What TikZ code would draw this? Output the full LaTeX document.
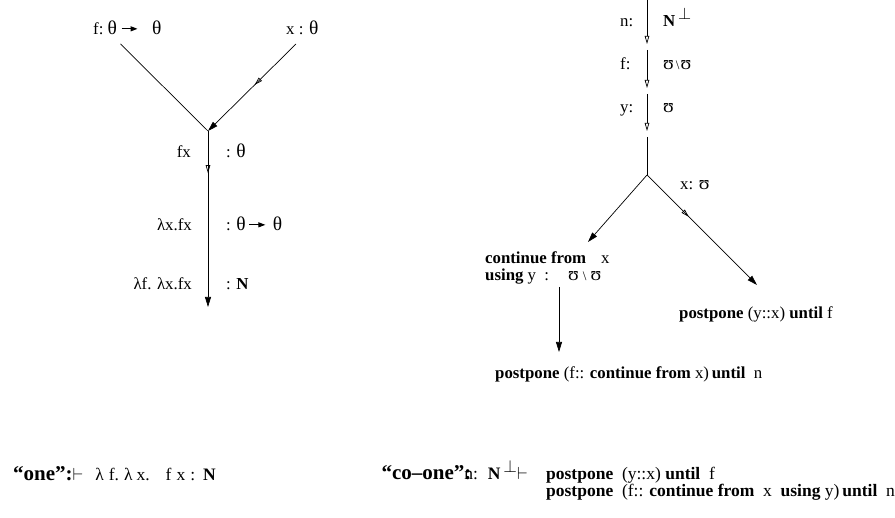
\RequirePackage{fix-cm}
\documentclass[tikz,border=0pt]{standalone}
\usepackage{fontspec}
\setmainfont{Liberation Serif}
\usetikzlibrary{arrows.meta,decorations.markings}
\newcommand\tht{{\fontsize{19.5}{20}\selectfont θ}}
\newcommand\ups{{\fontsize{19.5}{20}\selectfont ʊ}}
\newcommand\bsl{{\fontsize{13}{14}\selectfont\textbackslash}}
\newcommand\sarr{\tikz[baseline=-0.8ex]\draw[line width=1.1pt,-{Triangle[length=7pt,width=5pt]}] (0pt,0pt)--(16pt,0pt);}
\newcommand\perpsup{\raisebox{7pt}{$\perp$}}
\newcommand\bq{\fontsize{21}{22}\selectfont\bfseries}
\begin{document}
\begin{tikzpicture}[x=1pt,y=-1pt,
  fa/.tip={Triangle[length=10pt,width=6pt]},
  oa/.tip={Triangle[open,length=8pt,width=4.5pt]},
  ln/.style={line width=0.7pt},
  midopen/.style={postaction={decorate},decoration={markings,mark=at position #1 with {\arrow{oa}}}},
  lbl/.style={inner sep=0pt,font=\fontsize{16.8}{17}\selectfont},
  big/.style={inner sep=0pt,font=\fontsize{17.5}{17}\selectfont}]
\useasboundingbox (0,0) rectangle (895,518);
% ---------------- left diagram
\node[lbl,anchor=base west] (ftype) at (93,35) {f:\ \tht\hspace{4pt}\sarr\hspace{14pt}\tht};
\node[lbl,anchor=base west] (xtype) at (286,35) {x : \tht};
\coordinate (fs) at (120.5,44);
\coordinate (xs) at (296,44);
\coordinate (j1) at (208,131);
\coordinate (lb) at (208,307);
\draw[ln] (fs) -- (j1);
\draw[ln,-fa,midopen=0.47] (xs) -- (j1);
\draw[ln,-fa,midopen=0.24] (j1) -- (lb);
\node[lbl,anchor=base east] (fx) at (191,158) {fx};
\node[lbl,anchor=base west] (fxt) at (226,158) {: \tht};
\node[lbl,anchor=base east] (lx) at (192,231) {λx.fx};
\node[lbl,anchor=base west] (lxt) at (226,231) {: \tht\hspace{3pt}\sarr\hspace{7pt}\tht};
\node[lbl,anchor=base east] (lf) at (192,290) {λf. λx.fx};
\node[lbl,anchor=base west] (lft) at (226,290) {: \textbf{N}};
% ---------------- right diagram
\coordinate (t0) at (647,0);
\coordinate (t1) at (647,44);
\coordinate (t2) at (647,50);
\coordinate (t3) at (647,88);
\coordinate (t4) at (647,94);
\coordinate (t5) at (647,131);
\coordinate (t6) at (647,137);
\coordinate (j2) at (647,175);
\draw[ln,-oa] (t0) -- (t1);
\draw[ln,-oa] (t2) -- (t3);
\draw[ln,-oa] (t4) -- (t5);
\draw[ln] (t6) -- (j2);
\node[lbl,anchor=base west] (nl) at (620,27) {n:};
\node[lbl,anchor=base west] (nt) at (663,27) {\textbf{N}\,\perpsup};
\node[lbl,anchor=base west] (fl) at (620,70) {f:};
\node[lbl,anchor=base west] (ft) at (663,70) {\ups\hspace{2pt}\bsl\hspace{1pt}\ups};
\node[lbl,anchor=base west] (yl) at (620,113) {y:};
\node[lbl,anchor=base west] (yt) at (663,113) {\ups};
\coordinate (cl) at (588,242);
\coordinate (pr) at (757,285);
\draw[ln,-fa] (j2) -- (cl);
\draw[ln,-fa,midopen=0.38] (j2) -- (pr);
\node[lbl,anchor=base west] (xu) at (680,190) {x: \ups};
\node[lbl,anchor=base west] (cf) at (485,264) {\textbf{continue from}};
\node[lbl,anchor=base west] (cfx) at (601,264) {x};
\node[lbl,anchor=base west] (us) at (485,281) {\textbf{using} y\ \ :};
\node[lbl,anchor=base west] (ust) at (568,281) {\ups\hspace{4pt}\bsl\hspace{4pt}\ups};
\coordinate (v1) at (559,287);
\coordinate (v2) at (559,352);
\draw[ln,-fa] (v1) -- (v2);
\node[lbl,anchor=base west] (pyx) at (679,319) {\textbf{postpone} (y::x) \textbf{until} f};
\node[lbl,anchor=base west] (pfc) at (495,379) {\textbf{postpone} (f:: \textbf{continue from} x)\,\textbf{until}\ \ n};
% ---------------- bottom
\node[big,anchor=base west] (one) at (13,481) {{\bq ``one'':}$\vdash$\hspace{12pt}λ\hspace{5pt}f.\hspace{5pt}λ\hspace{4pt}x.\hspace{16pt}f\hspace{5pt}x\hspace{5pt}:\hspace{8pt}\textbf{N}};
\node[big,anchor=base east] (coone) at (528,480) {{\bq ``co–one''\rlap{:}}n:\hspace{10pt}\textbf{N}\,\perpsup$\vdash$};
\node[big,anchor=base west] (c1) at (546,480) {\textbf{postpone}\ \ (y::x) \textbf{until}\ \ f};
\node[big,anchor=base west] (c2) at (546,497) {\textbf{postpone}\ \ (f:: \textbf{continue from}\ \ x\ \ \textbf{using} y)\,\textbf{until}\ \ n};
\end{tikzpicture}
\end{document}
